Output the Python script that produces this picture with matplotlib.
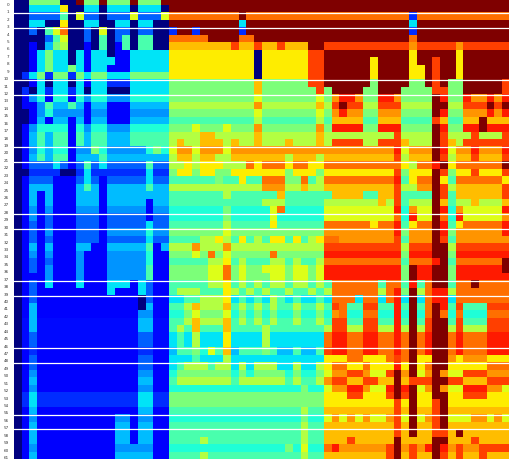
import re

import matplotlib
matplotlib.use("Agg")
import matplotlib.pyplot as plt
import numpy as np

LEVELS = {
    "0": 0.0, "1": 0.05, "2": 0.11, "x": 0.135, "3": 0.17, "4": 0.22, "5": 0.27,
    "6": 0.31, "7": 0.35, "8": 0.39, "9": 0.44, "a": 0.50, "b": 0.57, "c": 0.62,
    "d": 0.66, "e": 0.71, "f": 0.75, "g": 0.79, "h": 0.84, "i": 0.88, "j": 0.95,
    "k": 1.0,
}

# rows 0-61, columns 0-19, "a*4" means four cells in a row
LEFT = [
    "0*2 a*4 0*2 k a*2 k a*3 k a*3 k",
    "0*2 7*4 d 0*2 7*2 0 7*3 0 7*3 0",
    "0*2 4*4 9 0 c 4*2 0 4*3 c 4*3 c",
    "0*2 7*2 0*2 d 0*2 7*2 0*2 7*2 0 7*2 0*2",
    "0*2 4 0 9 c g 0*2 4 0 c 0 4*2 0 4*2 0*2",
    "0*4 4 9 c 0*2 4 0 9 0 4 9 0 9*2 0*2",
    "0*2 2 0 6 a b 0*2 2 0 9 0 2 9 0 9*2 0*2",
    "0*2 2 7 a 7*2 0 7 2 7*2 0 2*2 7*5",
    "0*2 2 7 a 7*2 0 7 2 7*3 2*2 7*5",
    "0*2 2 7 a 7*2 a 7 2 7*2 2*3 7*5",
    "0 3 7 a 3 a*2 3 a 7 a*2 7*3 a*5",
    "0*2 2 7 0 7*2 0 7 2 7*2 3*3 7*5",
    "0 3 0 7 3 7*2 3 7 0 7*2 0*3 7*5",
    "0 2 5 8 2 8*2 2 8 5 8*2 5*3 8*5",
    "0 2*2 5 9 6*2 9 6 2 6*2 2*3 6*5",
    "0*2 2 5 8 5*4 2 5*2 2*3 5*5",
    "0*2 2 6 2 6*2 2 6 2 6*2 2*3 6*5",
    "0 2 5 8*4 2 8 5 8*2 5*3 8*5",
    "0 2 6 9 6 9*2 2 9 6 9*2 6*3 9*5",
    "0 2 6 9 6 9*2 2 9 6 9*2 6*3 9*5",
    "0 2 5 8 6 8*2 2 5*2 a 8 5*5 8 a 8",
    "0 2 6 9 6 9*2 2 6*3 9 6*8",
    "0 2 4*3 7 4 2 4 9 4 7 4*5 9 4*2",
    "0*2 3*4 0*2 3 7 3*7 7 3*2",
    "0 2 4*3 2*3 4 7 4 2 4*5 7 4*2",
    "0 2 6*3 2*3 6 9 6 2 6*5 9 6*2",
    "0 2 6 2 6 2*3 6*3 2 6*8",
    "0 2 6 2 6 2*3 6*3 2 6*5 2 6*2",
    "0 2 5 2 5 2*3 5*3 2 5*5 2 5*2",
    "0 2 5 2 4 2*3 4*3 2 4*5 2 4*2",
    "0 2 4 2 4 2*3 4*3 2 4*5 7 4*2",
    "0 2 4 2 5 2*3 4*3 2 5*5 8 5*2",
    "0 2 4 2 4 2*3 4*3 2 4*5 7 4*2",
    "0 2 6 2 6 2*3 6*2 2*2 6*5 9 2 6",
    "0 2 5 2 5 2*3 5 2*3 5*5 8 2*2",
    "0 2 4 2 4 2*3 5 2*3 5*5 8 2*2",
    "0 2 4 2 5 2*3 5 2*3 5*5 9 2*2",
    "0 2*3 5 2*3 5 2*3 5*5 9 2*2",
    "0 2 4 2 7 2*3 7 2*3 7*3 2 7 4 2*2",
    "0 2 4 2*9 7 2*3 7 4 2*2",
    "0 2 4 2*13 0 4 2*2",
    "0 2 6 2*13 0 6 2*2",
    "0 2 6 2*13 5*2 2*2",
    "0 x 6 x*13 6*2 x*2",
    "0 x 6 x*13 6*2 x*2",
    "0 x 4 x*13 4*2 x*2",
    "0 x 4 x*13 4*2 x*2",
    "0 2 3 2*13 3*2 2*2",
    "0 2 4 2*13 4*2 2*2",
    "0 2 4 2*13 4*2 2*2",
    "0 2 5 2*13 5*2 2*2",
    "0 2 6 2*13 6*2 2*2",
    "0 2 5 2*13 5*2 2*2",
    "0 3 7 3*13 7*2 3*2",
    "0 3 7 3*13 7*2 3*2",
    "0 2 6 2*13 6*2 2*2",
    "0 2 5 2*10 5*2 2 5*2 2*2",
    "0 2 6 2*10 6*2 2 6*2 2*2",
    "0 2 6 2*10 6*2 2 6*2 2*2",
    "0 2 6 2*10 6*2 2 6*2 2*2",
    "0 2 5 2*10 5*5 2*2",
    "0 2 6 2*10 6*5 2*2",
]

# columns 20-41
MIDDLE = [
    "k*22",
    "k*22",
    "g*9 k g*12",
    "k*9 7 k*12",
    "3 k*2 3 k*5 3 k*12",
    "g*5 k*4 g*2 k*11",
    "e*8 h e*2 h e*2 h e*3 k*2 h*2",
    "d*11 0 d*6 h*2 k*2",
    "d*11 0 d*6 h*2 k*2",
    "d*11 0 d*6 h*2 k*2",
    "d*11 0 d*6 h*2 k*2",
    "a*11 e a*6 h*2 k*2",
    "a*11 e a*7 h a k",
    "a*11 c a*7 c a f",
    "b*11 f b*7 e b h",
    "a*11 c a*7 c a f",
    "9*11 b 9*7 b 9 e",
    "a*3 c a*3 c a*3 f a*7 f a i",
    "b*4 e*2 b*5 e b*7 e b*2",
    "b e b*2 e*3 b e b*2 e b*3 e b*3 e b h",
    "c f*2 c f*3 c f*14",
    "b e*2 b e*2 b*2 e*7 b e*3 b e*2",
    "b*2 d b d*3 b*3 g d g*3 d g*2 d*2 g*2",
    "a d*2 a d*2 a*2 d*7 a d*3 a d*2",
    "9*6 a 9*2 d 9*2 g*3 a*2 g 9 b g*2",
    "b*12 f*3 b*2 e b*2 e*2",
    "9*7 b 9*6 e 9*6 e",
    "9*12 b*3 9*5 b*2",
    "8*7 a 8*5 c g 8*5 c*2",
    "8*7 a 8*5 c 8*6 c*2",
    "9*7 b 9*5 d 9*6 g*2",
    "a*7 c a*12 f*2",
    "9*4 b*2 d b 9 d 9 b 9 d*2 9 d 9 b d g*2",
    "b*3 f b*3 f b*12 h*2",
    "a*3 c a g a c a*5 g a*6 i*2",
    "9*5 b*2 d 9 b 9*3 b*2 9 b 9*2 b g*2",
    "a*5 c*2 g a c a*2 c*3 a c*2 a c i*2",
    "a*5 c*2 g a c a*3 c*2 a c*2 a c i*2",
    "9*5 b*2 d 9 b 9 b 9 b*2 9 b*2 9 b 9 g",
    "9 b*3 9*3 d b 9 b 9 b 9*2 b 9*2 b 9 b g",
    "7*2 9*2 b*3 d 7 9 7 9 7 b 9 7 9 7*2 9 7 g",
    "9*2 b e b*3 e 9 b 9 b 9 b 9*2 b 9*2 b 9 h",
    "8*2 a c a*3 c 8 a 8 a 8 a 8*2 a 8*2 a 8 f",
    "9*2 b e b*3 e 9 b 9 b 9 b 9*2 b 9*2 b 9 h",
    "9 b 9 e 9*3 e 9*4 b 9*7 b h",
    "7 9 7 b 7*3 d 7*4 b 7*7 g i",
    "7 9 7 b 7*3 d 7*4 b 7*7 g i",
    "6 9*2 a 8 c 9 e 6 9*3 a 9 6*2 9 6*2 9 h i",
    "7*3 9 7*3 b 7*12 d*2",
    "7 9 b*3 9 b*2 7 b 7 b*3 7*2 b 7*2 b d g",
    "8 a*7 8 a 8 a*4 8 a 8*2 a c f",
    "9 b*7 9 b*6 9 b 9*2 b f h",
    "8*17 a 8*2 c f",
    "a*20 d*2",
    "a*20 d*2",
    "9*17 b 9*2 e*2",
    "8*17 a 8*2 c f",
    "9*17 b 9*2 e*2",
    "9*17 b 9*2 e*2",
    "9*4 b 9*12 b 9*2 e*2",
    "8*15 a 8 c 8*2 g i",
    "9*4 b 9*12 b 9*2 e*2",
]

# columns 42-63
RIGHT = [
    "k*22",
    "k*22",
    "g*9 3 g*12",
    "k*9 7 k*12",
    "k*9 3 k*12",
    "k*9 g k*12",
    "h*9 f h*5 f h*6",
    "k*9 d k*5 d k*6",
    "k*4 d k*4 d k*2 h k*2 d k*6",
    "k*4 d k*4 d*2 k h k*2 d k*6",
    "k*4 d k*4 d*2 k h k*2 d k*6",
    "k*4 a k*4 a*2 k h k a*2 k*5 h",
    "k*3 a*2 k*3 a*4 h*2 a*2 k*5 h",
    "i*2 f a*2 i*2 f a*4 k i a*2 i f*2 i f i",
    "k h*2 b*2 h*3 b*4 k*2 b*2 h*3 k h k",
    "i f*2 a*2 f*3 a*4 k i a*2 f*3 i f i",
    "e*3 9*2 e*3 9*4 h e 9*2 e*2 k e*3",
    "i*3 a*2 i*3 a*4 k i a*2 i*2 k i*3",
    "b*7 h b*4 k h b*3 h b*3 h",
    "h*3 b*2 h*3 e b*3 k h e b h*6",
    "f*7 i c f*3 k i c f*2 i f*3 i",
    "e*7 h b e*3 k h b e*2 h e*3 h",
    "g*8 d b g*2 i k d g*6 k",
    "d*7 h a d*3 k h a d*2 h d*3 h",
    "g*7 i 9 d g*2 k d 9 g*6 d",
    "e*7 h b*2 f*2 k h b e*6 h",
    "e*3 9*2 e*2 h 9*4 k h 9 e*6 h",
    "b*5 e b h 9 b*3 k e 9 b*2 e b*3 e",
    "c*7 i 8 f c*2 k i 8 f c*5 i",
    "c*7 g 8 i c*2 k g 8 i c*5 f",
    "g*4 d g*2 i 9 d g*2 k i 9 d g*5 i",
    "f*7 i a f*3 k i a f*6 i",
    "f*7 h 9 f*3 k h 9 f*7",
    "h*8 b h*3 k*2 b h*7",
    "i*8 a i*3 k*2 a i*7",
    "g*8 9 g*3 i k 9 g*6 k",
    "i*8 a k i*2 k*2 a i*6 k",
    "i*8 a k i*2 k*2 a i*7",
    "g*5 9 g*2 9 i 9 g k*2 9 g*2 k g*4",
    "g*5 b g i a k b g i*2 b g*7",
    "g*2 7 g*2 7 g i 7 k 7 g i*2 7 g*7",
    "g 9*2 h*2 9*2 i 9 k 9 g k i 9 h 9*3 h*3",
    "g 8*2 g*2 8*2 i 8 k 8 g k g 8 g 8*3 g*3",
    "h 9*2 h*2 9*2 i 9 k 9 h k*2 9 h 9*3 h*3",
    "h b*2 h*2 b*2 i b k b h k*2 b h b*3 h*3",
    "i g*2 i*2 g*2 i g k g i k*2 g i g*3 i*3",
    "i g*2 i*2 g*2 i g k g i k*2 g i g*3 i*3",
    "i g*2 i*2 g*2 i g k g i k*2 g i g*3 i*3",
    "d g*2 d*3 g h g k d*2 k*2 f d f*3 d*3",
    "g d*2 g d*3 i d k d g k*2 d*5 g*3",
    "f h*2 f c*2 h k f k c f k f c*2 h*3 f*3",
    "h e*2 h*2 e*2 k e h*3 k*2 h*2 e*3 h*3",
    "f i*2 f c*2 i k i k c f k f c*2 i*3 f*2 c",
    "d h*2 d*3 h k h k d*2 k*2 d*2 h*3 d*3",
    "d*7 h d k d*2 h k d*8",
    "e*7 h e k e*2 h k e*8",
    "c f c f c*2 f h c k c f h k c*3 f*2 c f c",
    "e*7 h e k e*2 h k e*8",
    "e*7 h e k e*2 h*2 e k e*6",
    "e h e*5 k e*4 k*2 e*3 h e*4",
    "f*6 h k f h f i k i f h f*2 h*4",
    "e*6 h k e h e*2 k h e h e*2 h e*3",
]

ROW_LABELS = [str(i) for i in range(62)]
SEPARATORS = [1.5, 3.5, 10.5, 12.5, 19.5, 21.5, 28.5, 30.5, 37.5, 39.5, 46.5, 48.5, 55.5, 57.5]


def decode(row):
    cells = []
    for code, count in re.findall(r"(\w)(?:\*(\d+))?", row):
        cells += [LEVELS[code]] * int(count or 1)
    return cells


values = np.array([decode(a + " " + b + " " + c) for a, b, c in zip(LEFT, MIDDLE, RIGHT)])

fig = plt.figure(figsize=(5.10, 4.63), dpi=100)
ax = fig.add_axes([14 / 510, 1 - 459.2 / 463, 496 / 510, 459.2 / 463])
ax.imshow(values, cmap="jet", vmin=0, vmax=1, aspect="auto", interpolation="nearest")
ax.set_ylim(61.5, -0.31)

for y in SEPARATORS:
    ax.axhline(y, color="white", lw=0.9)

# labels sit a little below the cell centres in the original
ax.set_yticks(np.arange(62) + 0.27, ROW_LABELS, fontsize=3, color="#333333")
ax.set_xticks([])
ax.tick_params(axis="y", length=0, pad=3.6)
for s in ax.spines.values():
    s.set_visible(False)

fig.savefig("out.png", dpi=100)
